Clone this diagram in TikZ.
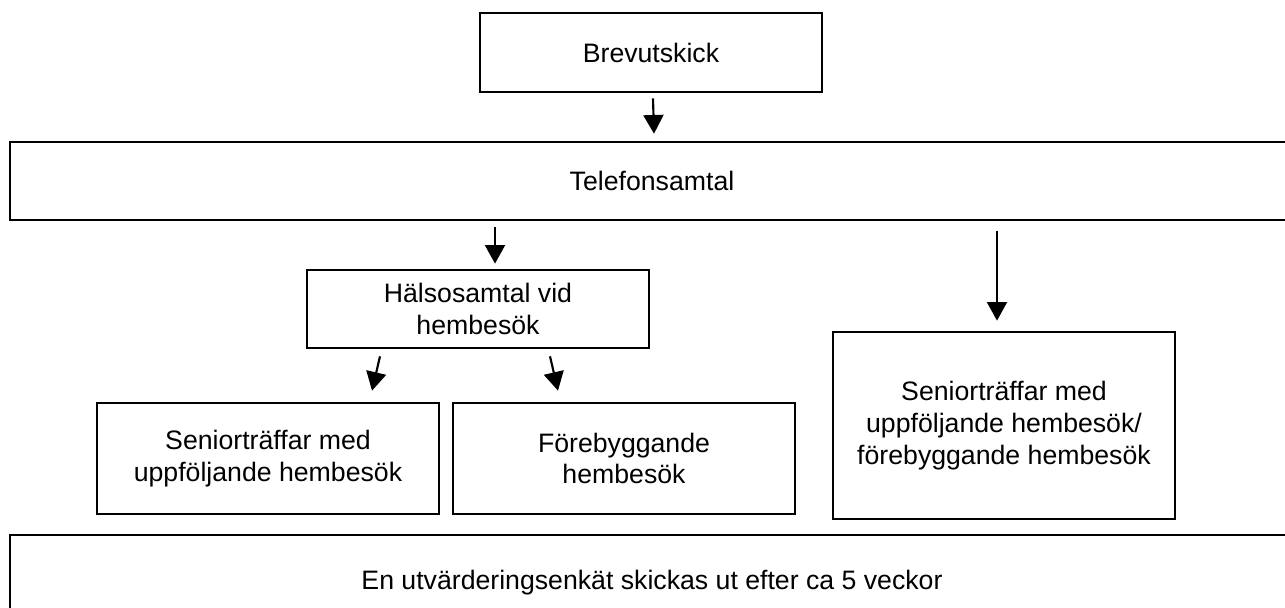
\documentclass[tikz,border=0pt]{standalone}
\usepackage{fontspec}
\setmainfont{Liberation Sans}
\usetikzlibrary{arrows.meta,calc}

\tikzset{
  box/.style={draw, line width=2pt, align=center, minimum width=256.5pt,
              font=\fontsize{20}{23.8}\selectfont},
  arr/.style={line width=1.6pt, -{Triangle[length=14pt,width=15pt]}}
}

\begin{document}
\begin{tikzpicture}[x=0.75pt,y=-0.75pt]

  \useasboundingbox (0,0) rectangle (1285,607);

  % first step
  \node [box, minimum height=59.25pt]                        (brev)  at (651,  52.5)  {Brevutskick};
  \node [box, minimum width=963pt, minimum height=58.5pt]    (tele)  at (652,  181)   {Telefonsamtal};

  % home visit branch
  \node [box, minimum height=58.5pt]                         (hals)  at (478,  309)   {Hälsosamtal vid\\hembesök};
  \node [box, minimum height=83.25pt]                        (sen)   at (268,  458.5) {Seniorträffar med\\uppföljande hembesök};
  \node [box, minimum height=83.25pt]                        (fore)  at (624,  458.5) {Förebyggande\\hembesök};

  % direct branch
  \node [box, minimum height=140.25pt]                       (senfore) at (1004, 425.5) {Seniorträffar med\\uppföljande hembesök/\\förebyggande hembesök};

  % evaluation
  \node [box, minimum width=963pt, minimum height=72pt]      (enkat) at (652,  583)   {En utvärderingsenkät skickas ut efter ca 5 veckor};

  % arrows
  \draw [arr] ($(brev.south)+(2,5)$)    -- ($(tele.north)+(2,-7)$);
  \draw [arr] ($(tele.south)+(-157,6)$) -- ($(hals.north)+(17,-5)$);
  \draw [arr] ($(tele.south)+(345,10)$) -- ($(senfore.north)+(-7,-10)$);
  \draw [arr] ($(hals.south)+(-98,7)$)  -- ($(sen.north)+(104,-11)$);
  \draw [arr] ($(hals.south)+(72,7)$)   -- ($(fore.north)+(-66,-11)$);

\end{tikzpicture}
\end{document}
